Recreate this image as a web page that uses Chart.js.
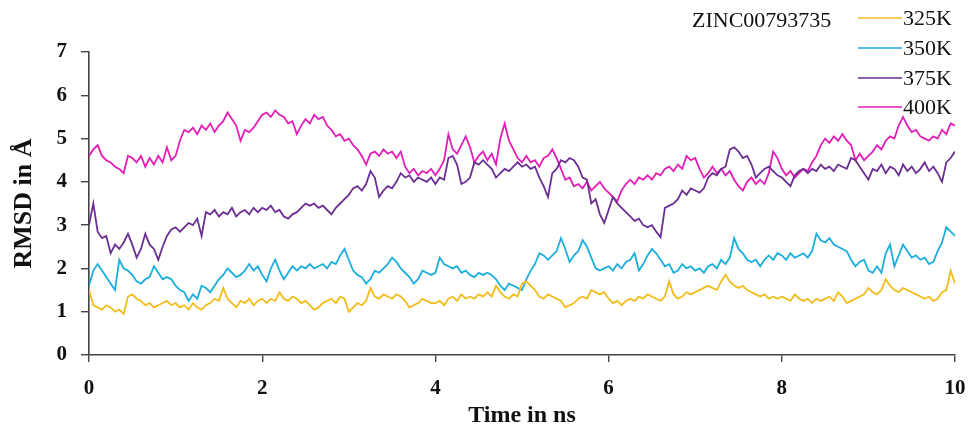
<!DOCTYPE html>
<html>
<head>
<meta charset="utf-8">
<script src="https://cdn.jsdelivr.net/npm/chart.js@4.4.1/dist/chart.umd.min.js"></script>
<style>
  html, body { margin: 0; padding: 0; background: #ffffff; }
  #wrap { width: 970px; height: 431px; }
</style>
</head>
<body>
<div id="wrap"><canvas id="rmsd" width="970" height="431"></canvas></div>
<script>
// RMSD trajectories of ZINC00793735 at four temperatures, sampled every 0.05 ns
const compoundId = "ZINC00793735";
const seriesLabels = ["325K", "350K", "375K", "400K"];
const timeStepNs = 0.05;
const xTicks = [0, 2, 4, 6, 8, 10];
const yTicks = [0, 1, 2, 3, 4, 5, 6, 7];

const rmsd325 = [
  1.5, 1.15, 1.1, 1.05, 1.15, 1.1, 1.0, 1.05, 0.95, 1.35, 1.4, 1.3, 1.25, 1.15, 1.2, 1.1, 1.15, 1.2, 1.25, 1.15,
  1.2, 1.1, 1.15, 1.05, 1.2, 1.1, 1.05, 1.15, 1.2, 1.3, 1.25, 1.55, 1.3, 1.2, 1.1, 1.25, 1.2, 1.3, 1.15, 1.25,
  1.3, 1.2, 1.3, 1.25, 1.45, 1.3, 1.25, 1.35, 1.3, 1.2, 1.25, 1.15, 1.05, 1.1, 1.2, 1.25, 1.3, 1.2, 1.35, 1.3,
  1.0, 1.1, 1.2, 1.15, 1.25, 1.55, 1.35, 1.3, 1.4, 1.35, 1.3, 1.4, 1.35, 1.25, 1.1, 1.15, 1.2, 1.3, 1.25, 1.2,
  1.2, 1.25, 1.15, 1.3, 1.35, 1.25, 1.4, 1.3, 1.35, 1.3, 1.4, 1.35, 1.45, 1.35, 1.6, 1.45, 1.35, 1.3, 1.4, 1.35,
  1.65, 1.7, 1.6, 1.5, 1.35, 1.3, 1.4, 1.35, 1.3, 1.25, 1.1, 1.15, 1.2, 1.3, 1.35, 1.3, 1.5, 1.45, 1.4, 1.45,
  1.3, 1.2, 1.25, 1.15, 1.25, 1.3, 1.25, 1.35, 1.3, 1.4, 1.35, 1.3, 1.25, 1.35, 1.7, 1.4, 1.3, 1.35, 1.45, 1.4,
  1.45, 1.5, 1.55, 1.6, 1.55, 1.5, 1.7, 1.85, 1.7, 1.6, 1.55, 1.6, 1.5, 1.45, 1.4, 1.35, 1.4, 1.3, 1.35, 1.3,
  1.35, 1.3, 1.25, 1.4, 1.3, 1.25, 1.3, 1.2, 1.3, 1.25, 1.3, 1.35, 1.25, 1.45, 1.35, 1.2, 1.25, 1.3, 1.35, 1.4,
  1.55, 1.45, 1.4, 1.5, 1.75, 1.6, 1.5, 1.45, 1.55, 1.5, 1.45, 1.4, 1.35, 1.3, 1.35, 1.25, 1.3, 1.45, 1.5, 1.95,
  1.65
];

const rmsd350 = [
  1.6, 1.95, 2.1, 1.95, 1.8, 1.65, 1.5, 2.2, 2.0, 1.95, 1.85, 1.7, 1.65, 1.75, 1.8, 2.05, 1.9, 1.75, 1.8, 1.75,
  1.6, 1.5, 1.45, 1.25, 1.4, 1.3, 1.6, 1.55, 1.45, 1.6, 1.75, 1.85, 2.0, 1.9, 1.8, 1.85, 1.95, 2.1, 1.95, 2.05,
  1.85, 1.7, 2.0, 2.2, 1.95, 1.75, 1.9, 2.05, 1.95, 2.05, 2.0, 2.1, 2.0, 2.05, 2.1, 2.0, 2.15, 2.1, 2.3, 2.45,
  2.2, 1.95, 1.85, 1.8, 1.65, 1.75, 1.95, 1.9, 2.0, 2.1, 2.25, 2.15, 2.0, 1.9, 1.8, 1.65, 1.75, 1.95, 1.9, 1.85,
  1.9, 2.25, 2.1, 2.05, 2.0, 2.05, 1.9, 1.95, 1.85, 1.8, 1.9, 1.85, 1.9, 1.85, 1.75, 1.6, 1.5, 1.65, 1.6, 1.55,
  1.5, 1.75, 1.95, 2.1, 2.35, 2.3, 2.2, 2.3, 2.4, 2.7, 2.45, 2.15, 2.3, 2.4, 2.65, 2.5, 2.25, 2.0, 1.95, 2.0,
  2.05, 1.95, 2.1, 2.0, 2.15, 2.2, 2.35, 1.95, 2.1, 2.3, 2.45, 2.35, 2.2, 2.05, 2.1, 1.9, 1.95, 2.1, 2.0, 2.05,
  1.95, 2.0, 1.9, 2.05, 2.1, 2.0, 2.2, 2.1, 2.25, 2.7, 2.45, 2.35, 2.2, 2.15, 2.2, 2.05, 2.2, 2.3, 2.2, 2.35,
  2.3, 2.2, 2.35, 2.25, 2.3, 2.35, 2.25, 2.4, 2.8, 2.65, 2.6, 2.7, 2.55, 2.5, 2.45, 2.4, 2.2, 2.05, 2.15, 2.2,
  1.95, 1.9, 2.05, 1.9, 2.35, 2.55, 2.05, 2.3, 2.55, 2.4, 2.25, 2.3, 2.2, 2.25, 2.1, 2.15, 2.4, 2.6, 2.95, 2.85,
  2.75
];

const rmsd375 = [
  3.0, 3.5, 2.85, 2.7, 2.75, 2.35, 2.55, 2.45, 2.6, 2.8, 2.55, 2.25, 2.45, 2.8, 2.55, 2.45, 2.2, 2.5, 2.75, 2.9,
  2.95, 2.85, 2.95, 3.05, 3.0, 3.15, 2.75, 3.3, 3.25, 3.35, 3.2, 3.3, 3.25, 3.4, 3.2, 3.3, 3.35, 3.25, 3.4, 3.3,
  3.4, 3.35, 3.45, 3.3, 3.35, 3.2, 3.15, 3.25, 3.3, 3.4, 3.5, 3.45, 3.5, 3.4, 3.45, 3.35, 3.25, 3.4, 3.5, 3.6,
  3.7, 3.85, 3.9, 3.8, 3.95, 4.25, 4.1, 3.65, 3.8, 3.9, 3.85, 4.0, 4.2, 4.1, 4.15, 4.0, 4.1, 4.05, 4.0, 4.1,
  3.95, 4.1, 4.05, 4.55, 4.6, 4.4, 3.95, 4.0, 4.1, 4.45, 4.4, 4.5, 4.4, 4.3, 4.1, 4.2, 4.3, 4.25, 4.35, 4.45,
  4.35, 4.4, 4.3, 4.35, 4.1, 3.9, 3.65, 4.2, 4.3, 4.5, 4.45, 4.55, 4.5, 4.35, 4.1, 4.05, 3.5, 3.6, 3.25, 3.05,
  3.35, 3.65, 3.5, 3.4, 3.3, 3.2, 3.1, 3.15, 3.0, 2.95, 3.0, 2.85, 2.72, 3.4, 3.45, 3.5, 3.6, 3.8, 3.7, 3.85,
  3.8, 3.75, 3.85, 4.1, 4.2, 4.15, 4.3, 4.35, 4.75, 4.8, 4.7, 4.55, 4.6, 4.4, 4.1, 4.2, 4.3, 4.35, 4.25, 4.15,
  4.1, 4.0, 3.9, 4.15, 4.25, 4.3, 4.2, 4.3, 4.25, 4.4, 4.3, 4.35, 4.25, 4.4, 4.35, 4.3, 4.55, 4.5, 4.35, 4.2,
  4.05, 4.3, 4.25, 4.4, 4.2, 4.35, 4.3, 4.15, 4.4, 4.25, 4.35, 4.2, 4.3, 4.45, 4.25, 4.35, 4.2, 4.0, 4.45, 4.55,
  4.7
];

const rmsd400 = [
  4.6, 4.75, 4.85, 4.6, 4.5, 4.45, 4.35, 4.3, 4.2, 4.6, 4.55, 4.45, 4.6, 4.35, 4.55, 4.4, 4.6, 4.45, 4.8, 4.5,
  4.6, 4.95, 5.2, 5.15, 5.25, 5.1, 5.3, 5.2, 5.35, 5.15, 5.3, 5.4, 5.6, 5.45, 5.3, 4.95, 5.2, 5.15, 5.25, 5.4,
  5.55, 5.6, 5.5, 5.65, 5.55, 5.5, 5.35, 5.4, 5.1, 5.3, 5.45, 5.35, 5.55, 5.45, 5.5, 5.3, 5.2, 5.05, 5.1, 4.95,
  5.0, 4.85, 4.75, 4.6, 4.4, 4.65, 4.7, 4.6, 4.75, 4.65, 4.7, 4.55, 4.7, 4.35, 4.2, 4.3, 4.15, 4.25, 4.2, 4.3,
  4.15, 4.3, 4.5, 5.1, 4.75, 4.65, 4.85, 5.05, 4.8, 4.45, 4.6, 4.7, 4.5, 4.65, 4.4, 5.0, 5.35, 4.95, 4.75, 4.55,
  4.45, 4.6, 4.45, 4.5, 4.35, 4.55, 4.6, 4.75, 4.55, 4.3, 4.05, 4.1, 3.9, 3.95, 3.85, 4.0, 3.8, 3.9, 4.0, 3.85,
  3.75, 3.65, 3.55, 3.8, 3.95, 4.05, 3.95, 4.1, 4.05, 4.15, 4.05, 4.2, 4.15, 4.3, 4.35, 4.25, 4.4, 4.3, 4.6, 4.5,
  4.55, 4.3, 4.1, 4.2, 4.35, 4.2, 4.3, 4.15, 4.25, 4.05, 3.9, 3.8, 4.0, 4.1, 3.95, 4.05, 3.95, 4.2, 4.7, 4.55,
  4.3, 4.15, 4.25, 4.1, 4.2, 4.3, 4.25, 4.45, 4.6, 4.85, 5.0, 4.9, 5.05, 4.95, 5.1, 4.95, 4.85, 4.5, 4.65, 4.5,
  4.6, 4.7, 4.85, 4.75, 4.95, 5.05, 5.0, 5.3, 5.5, 5.3, 5.15, 5.2, 5.05, 5.0, 4.95, 5.05, 5.0, 5.2, 5.1, 5.35,
  5.3
];

const seriesValues = [rmsd325, rmsd350, rmsd375, rmsd400];
const seriesColors = ["#F2BC1B", "#1BAEDC", "#6B2E92", "#E21DB8"];

const toPoints = values => values.map((v, i) => ({ x: i * timeStepNs, y: v }));

const serif = "'Liberation Serif', 'Times New Roman', serif";

// Compound label and the stacked key in the upper right corner
const keyPlugin = {
  id: "temperatureKey",
  afterDraw(chart) {
    const ctx = chart.ctx;
    ctx.save();
    ctx.fillStyle = "#111";
    ctx.textBaseline = "middle";
    ctx.textAlign = "left";
    ctx.font = "22px " + serif;
    ctx.fillText(compoundId, 692, 21);
    const rowY = [18, 48, 78, 107];
    chart.data.datasets.forEach((ds, i) => {
      ctx.strokeStyle = ds.borderColor;
      ctx.lineWidth = 1.5;
      ctx.beginPath();
      ctx.moveTo(858, rowY[i]);
      ctx.lineTo(902, rowY[i]);
      ctx.stroke();
      ctx.fillStyle = "#111";
      ctx.font = "22px " + serif;
      ctx.fillText(ds.label, 903, rowY[i] + 1);
    });
    ctx.restore();
  }
};

new Chart(document.getElementById("rmsd"), {
  type: "line",
  data: {
    datasets: seriesLabels.map((label, i) => ({
      label,
      data: toPoints(seriesValues[i]),
      borderColor: seriesColors[i],
      borderWidth: 1.8,
      pointRadius: 0,
      tension: 0,
      fill: false
    }))
  },
  options: {
    responsive: false,
    animation: false,
    devicePixelRatio: 1,
    layout: { padding: { left: 0, right: 15, top: 52, bottom: 0 } },
    plugins: { legend: { display: false }, tooltip: { enabled: false } },
    scales: {
      x: {
        type: "linear",
        min: 0,
        max: 10,
        afterBuildTicks: s => { s.ticks = xTicks.map(v => ({ value: v })); },
        afterFit: s => { s.height = 76; s.paddingLeft = 0; s.paddingRight = 0; },
        border: { display: true, color: "#444", width: 1.6 },
        grid: { drawOnChartArea: false, drawTicks: true, tickLength: 7, color: "#444", lineWidth: 1.4 },
        ticks: { color: "#111", padding: 14, font: { family: serif, size: 21, weight: "bold" } },
        title: {
          display: true,
          text: "Time in ns",
          color: "#111",
          padding: { top: 0, bottom: 1 },
          font: { family: serif, size: 24, weight: "bold" }
        }
      },
      y: {
        min: 0,
        max: 7,
        afterBuildTicks: s => { s.ticks = yTicks.map(v => ({ value: v })); },
        afterFit: s => { s.width = 89; s.paddingTop = 0; s.paddingBottom = 0; },
        border: { display: true, color: "#444", width: 1.6 },
        grid: { drawOnChartArea: false, drawTicks: true, tickLength: 8, color: "#444", lineWidth: 1.4 },
        ticks: { color: "#111", padding: 14, font: { family: serif, size: 21, weight: "bold" } },
        title: {
          display: true,
          text: "RMSD in Å",
          color: "#111",
          padding: { top: 9, bottom: 0 },
          font: { family: serif, size: 26, weight: "bold" }
        }
      }
    }
  },
  plugins: [keyPlugin]
});
</script>
</body>
</html>
